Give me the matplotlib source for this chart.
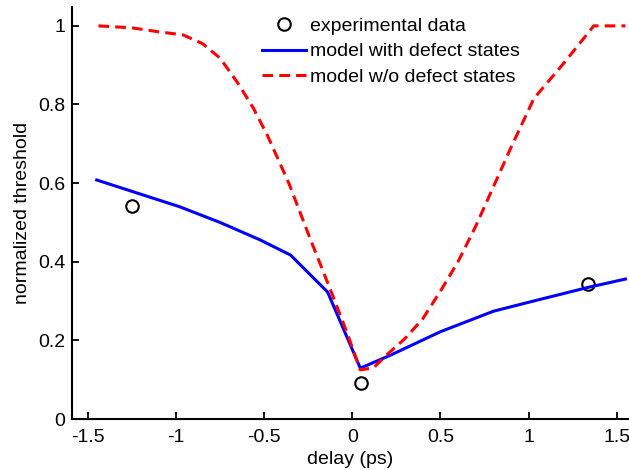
import numpy as np
import matplotlib.pyplot as plt

plt.rcParams['font.family'] = ['Liberation Sans', 'DejaVu Sans']
plt.rcParams['axes.unicode_minus'] = False

# experimental points
exp_delay = [-1.25, 0.05, 1.34]
exp_thr = [0.542, 0.092, 0.343]

# model with defect states
defect_delay = [-1.45, -0.98, -0.75, -0.52, -0.35, -0.14, 0.045, 0.06, 0.22, 0.5, 0.8, 1.01, 1.34, 1.55]
defect_thr = [0.608, 0.54, 0.50, 0.455, 0.417, 0.323, 0.13, 0.132, 0.163, 0.222, 0.274, 0.298, 0.335, 0.356]

# model without defect states
nodef_delay = [-1.44, -1.25, -1.1, -0.96, -0.85, -0.75, -0.65, -0.56, -0.48, -0.41, -0.36, -0.3, -0.24,
               -0.125, -0.03, 0.045, 0.12, 0.2, 0.3, 0.4, 0.5, 0.6, 0.7, 0.8, 0.9, 1.03, 1.2, 1.37, 1.55]
nodef_thr = [1.0, 0.995, 0.985, 0.977, 0.955, 0.918, 0.855, 0.79, 0.72, 0.65, 0.60, 0.53, 0.46,
             0.33, 0.22, 0.125, 0.13, 0.165, 0.205, 0.255, 0.325, 0.40, 0.49, 0.59, 0.69, 0.815, 0.905, 1.0, 1.0]

fig = plt.figure(figsize=(6.29, 4.70), dpi=100)
ax = fig.add_axes([72/629, 51/470, 557/629, 412/470])

ax.plot(exp_delay, exp_thr, 'o', mfc='none', mec='black', ms=9, mew=1.5, label='experimental data')
ax.plot(defect_delay, defect_thr, '-', color='#0000ff', lw=2.2, label='model with defect states')
ax.plot(nodef_delay, nodef_thr, '--', color='#ff0000', lw=2.2, dashes=(3.5, 2), label='model w/o defect states')

ax.set_xlim(-1.59, 1.57)
ax.set_ylim(0, 1.048)
ax.set_xticks([-1.5, -1, -0.5, 0, 0.5, 1, 1.5])
ax.set_xticklabels(['-1.5', '-1', '-0.5', '0', '0.5', '1', '1.5'])
ax.set_yticks([0, 0.2, 0.4, 0.6, 0.8, 1])
ax.set_yticklabels(['0', '0.2', '0.4', '0.6', '0.8', '1'])
ax.tick_params(direction='in', length=5, width=1.3, labelsize=14, pad=5)
ax.tick_params(axis='x', pad=7)
for s in ['top', 'right']:
    ax.spines[s].set_visible(False)
for s in ['left', 'bottom']:
    ax.spines[s].set_linewidth(1.5)

ax.set_xlabel('delay (ps)', fontsize=14, labelpad=4)
ax.set_ylabel('normalized threshold', fontsize=14, labelpad=5)

ax.legend(loc='upper left', bbox_to_anchor=(262/629, 0.964), bbox_transform=fig.transFigure,
          frameon=False, fontsize=14, handlelength=2.25, handletextpad=0.2,
          labelspacing=0.42, borderpad=0, borderaxespad=0)

fig.savefig('out.png', dpi=100)
